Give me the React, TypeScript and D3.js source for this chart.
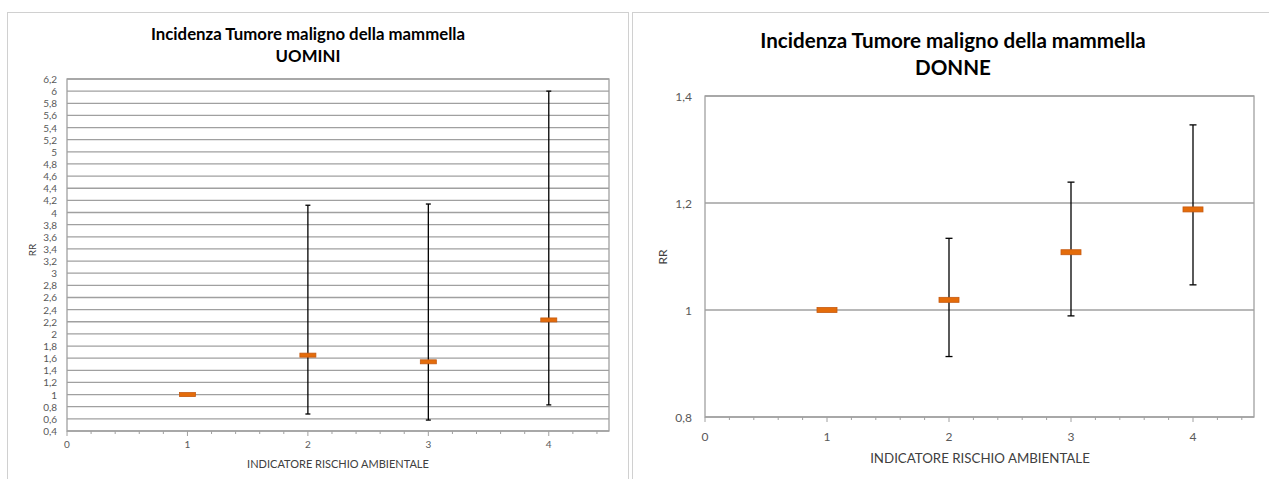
import React from "react";
import * as d3 from "d3";

const categories = [1, 2, 3, 4];
const titleLine1 = "Incidenza Tumore maligno della mammella";
const xTitle = "INDICATORE RISCHIO AMBIENTALE";
const yTitle = "RR";

// UOMINI
const menRR = [1.0, 1.65, 1.54, 2.23];
const menLower = [1.0, 0.68, 0.58, 0.83];
const menUpper = [1.0, 4.12, 4.14, 6.0];
const menYTicks = d3.range(0.4, 6.2001, 0.2).map((v) => +v.toFixed(1));

// DONNE
const womenRR = [1.0, 1.019, 1.108, 1.188];
const womenLower = [1.0, 0.913, 0.989, 1.047];
const womenUpper = [1.0, 1.134, 1.239, 1.346];
const womenYTicks = [0.8, 1.0, 1.2, 1.4];

const xLabels = [0, 1, 2, 3, 4];
const FONT = "Lato, 'Open Sans', sans-serif";

type PanelProps = {
  x0: number; x1: number; y0: number; y1: number;
  yDomain: [number, number];
  yTicks: number[];
  rr: number[]; lo: number[]; hi: number[];
  subtitle: string;
  titleSize: number; titleY1: number; titleY2: number; titleX: number;
  tickSize: number; yLabelX: number; xLabelY: number;
  rrX: number; rrY: number; rrSize: number;
  xTitleX: number; xTitleY: number; xTitleSize: number;
  markW: number; markH: number; capW: number;
};

function fmt(v: number) {
  return String(+v.toFixed(1)).replace(".", ",");
}

function Panel(p: PanelProps) {
  const x = d3.scaleLinear().domain([0, 4.5]).range([p.x0, p.x1]);
  const y = d3.scaleLinear().domain(p.yDomain).range([p.y1, p.y0]);
  const minor = d3.range(0, 4.5001, 0.2).map((v) => +v.toFixed(1));
  const grid = "#a0a0a0";
  return (
    <g>
      <text x={p.titleX} y={p.titleY1} textAnchor="middle" dominantBaseline="central"
        fontFamily={FONT} fontWeight="bold" fontSize={p.titleSize} fill="#000">{titleLine1}</text>
      <text x={p.titleX} y={p.titleY2} textAnchor="middle" dominantBaseline="central"
        fontFamily={FONT} fontWeight="bold" fontSize={p.titleSize} fill="#000">{p.subtitle}</text>
      {p.yTicks.map((t) => (
        <line key={"g" + t} x1={p.x0} x2={p.x1} y1={y(t)} y2={y(t)} stroke={grid} strokeWidth={1.3} />
      ))}
      <rect x={p.x0} y={p.y0} width={p.x1 - p.x0} height={p.y1 - p.y0} fill="none" stroke={grid} strokeWidth={1.3} />
      {p.yTicks.map((t) => (
        <text key={"yl" + t} x={p.yLabelX} y={y(t)} textAnchor="end" dominantBaseline="central"
          fontFamily={FONT} fontSize={p.tickSize} fill="#595959">{fmt(t)}</text>
      ))}
      {minor.map((t) => {
        const major = Math.abs(t - Math.round(t)) < 1e-6;
        return (
          <line key={"t" + t} x1={x(t)} x2={x(t)} y1={p.y1} y2={p.y1 + (major ? 5 : 3)} stroke={grid} strokeWidth={1} />
        );
      })}
      {xLabels.map((t) => (
        <text key={"xl" + t} x={x(t)} y={p.xLabelY} textAnchor="middle" dominantBaseline="central"
          fontFamily={FONT} fontSize={p.tickSize} fill="#595959">{t}</text>
      ))}
      <text transform={`translate(${p.rrX},${p.rrY}) rotate(-90)`} textAnchor="middle" dominantBaseline="central"
        fontFamily={FONT} fontSize={p.rrSize} fill="#404040">{yTitle}</text>
      <text x={p.xTitleX} y={p.xTitleY} textAnchor="middle" dominantBaseline="central"
        fontFamily={FONT} fontSize={p.xTitleSize} fill="#404040">{xTitle}</text>
      {categories.map((c, i) => {
        const cx = x(c);
        const hasBar = p.hi[i] > p.lo[i];
        return (
          <g key={"m" + c}>
            {hasBar && (
              <g stroke="#000" strokeWidth={1.3}>
                <line x1={cx} x2={cx} y1={y(p.hi[i])} y2={y(p.lo[i])} />
                <line x1={cx - p.capW / 2} x2={cx + p.capW / 2} y1={y(p.hi[i])} y2={y(p.hi[i])} />
                <line x1={cx - p.capW / 2} x2={cx + p.capW / 2} y1={y(p.lo[i])} y2={y(p.lo[i])} />
              </g>
            )}
            <rect x={cx - p.markW / 2} y={y(p.rr[i]) - p.markH / 2} width={p.markW} height={p.markH}
              fill="#e46c0a" stroke="#c55a11" strokeWidth={0.8} />
          </g>
        );
      })}
    </g>
  );
}

export default function App() {
  return (
    <svg width={1269} height={479} style={{ position: "absolute", left: 0, top: 0, background: "#fff" }}>
      <rect x={0} y={0} width={1269} height={479} fill="#fff" />
      <rect x={7.5} y={12.5} width={621} height={480} fill="none" stroke="#d0d0d0" strokeWidth={1} />
      <rect x={632.5} y={12.5} width={650} height={480} fill="none" stroke="#d0d0d0" strokeWidth={1} />
      <Panel x0={67} x1={609} y0={79} y1={431} yDomain={[0.4, 6.2]} yTicks={menYTicks}
        rr={menRR} lo={menLower} hi={menUpper} subtitle="UOMINI"
        titleSize={16.8} titleY1={33} titleY2={55} titleX={308}
        tickSize={10} yLabelX={57} xLabelY={444}
        rrX={32} rrY={250} rrSize={10}
        xTitleX={338} xTitleY={463} xTitleSize={11}
        markW={16} markH={4} capW={5} />
      <Panel x0={705} x1={1254} y0={96} y1={417} yDomain={[0.8, 1.4]} yTicks={womenYTicks}
        rr={womenRR} lo={womenLower} hi={womenUpper} subtitle="DONNE"
        titleSize={20.6} titleY1={40} titleY2={67} titleX={953}
        tickSize={12} yLabelX={692} xLabelY={436}
        rrX={662} rrY={257} rrSize={12}
        xTitleX={980} xTitleY={458} xTitleSize={13.3}
        markW={20} markH={5} capW={7} />
    </svg>
  );
}
